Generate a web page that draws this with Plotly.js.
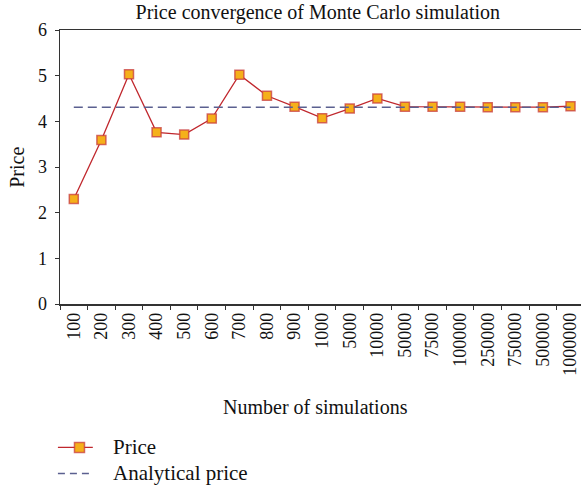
<!DOCTYPE html>
<html>
<head>
<meta charset="utf-8">
<script src="https://cdn.plot.ly/plotly-3.0.1.min.js"></script>
<style>html,body{margin:0;padding:0;background:#fff;}#chart{width:581px;height:486px;}</style>
</head>
<body>
<div id="chart"></div>
<script>
const categories = ["100","200","300","400","500","600","700","800","900","1000","5000","10000","50000","75000","100000","250000","750000","500000","1000000"];
const priceValues = [2.30,3.59,5.03,3.76,3.71,4.06,5.02,4.56,4.32,4.07,4.28,4.50,4.32,4.32,4.32,4.31,4.31,4.31,4.33];
const analyticalPrice = 4.31;
const analyticalValues = categories.map(() => analyticalPrice);
const seriesNames = ["Price", "Analytical price"];

const font = "Liberation Serif, Times New Roman, serif";
const priceColor = "#c0272d";
const markerFill = "#f5b01a";
const markerEdge = "rgba(200,60,60,0.75)";
const analyticalColor = "#5b6090";

const traces = [
  {
    x: categories, y: priceValues, name: seriesNames[0], type: "scatter", mode: "lines+markers",
    line: {color: priceColor, width: 1.3},
    marker: {symbol: "square", size: 9, color: markerFill, line: {color: markerEdge, width: 1.5}}
  },
  {
    x: categories, y: analyticalValues, name: seriesNames[1], type: "scatter", mode: "lines",
    line: {color: analyticalColor, width: 1.6, dash: "9px,5px"}
  }
];

// custom legend (paper coordinates)
const legX0 = -0.004, legX1 = 0.063, legMid = 0.0374, legText = 0.098;
const row1 = -0.5236, row2 = -0.6186;
const sqHalfX = 0.0096, sqHalfY = 0.0183;

const layout = {
  width: 581, height: 486,
  margin: {l: 60, r: 0, t: 30, b: 182},
  paper_bgcolor: "#fff", plot_bgcolor: "#fff",
  font: {family: font, size: 19, color: "#111"},
  title: {text: "Price convergence of Monte Carlo simulation", font: {family: font, size: 20, color: "#111"}, x: 0.547, xanchor: "center", y: 0.975, yanchor: "middle"},
  xaxis: {
    type: "category", range: [-0.5, 18.38], tickangle: -90, tickson: "boundaries", ticks: "outside", ticklen: 4, tickcolor: "#333",
    showline: true, linecolor: "#333", linewidth: 1.5, mirror: true, showgrid: false, zeroline: false,
    tickfont: {family: font, size: 18, color: "#111"}, automargin: false, fixedrange: true
  },
  yaxis: {
    range: [0, 6], dtick: 1, ticks: "outside", ticklen: 4, tickcolor: "#333", ticklabelstandoff: 4,
    showline: true, linecolor: "#333", linewidth: 1.5, showgrid: false, zeroline: false,
    tickfont: {family: font, size: 18, color: "#111"}, automargin: false
  },
  showlegend: false,
  shapes: [
    {type: "line", xref: "paper", yref: "paper", x0: legX0, x1: legX1, y0: row1, y1: row1, line: {color: priceColor, width: 1.3}},
    {type: "rect", xref: "paper", yref: "paper", x0: legMid - sqHalfX, x1: legMid + sqHalfX, y0: row1 - sqHalfY, y1: row1 + sqHalfY, fillcolor: markerFill, line: {color: markerEdge, width: 1.5}},
    {type: "line", xref: "paper", yref: "paper", x0: legX0, x1: legX1, y0: row2, y1: row2, line: {color: analyticalColor, width: 1.6, dash: "7px,5px"}}
  ],
  annotations: [
    {text: "Number of simulations", xref: "paper", yref: "paper", x: 0.491, y: -0.377, xanchor: "center", yanchor: "middle", showarrow: false, font: {family: font, size: 20, color: "#111"}},
    {text: "Price", xref: "paper", yref: "paper", x: -0.083, y: 0.5, xanchor: "center", yanchor: "middle", textangle: -90, showarrow: false, font: {family: font, size: 20, color: "#111"}},
    {text: seriesNames[0], xref: "paper", yref: "paper", x: legText, y: row1, xanchor: "left", yanchor: "middle", showarrow: false, font: {family: font, size: 21, color: "#111"}},
    {text: seriesNames[1], xref: "paper", yref: "paper", x: legText, y: row2, xanchor: "left", yanchor: "middle", showarrow: false, font: {family: font, size: 21, color: "#111"}}
  ]
};

Plotly.newPlot("chart", traces, layout, {displayModeBar: false, staticPlot: true});
</script>
</body>
</html>
